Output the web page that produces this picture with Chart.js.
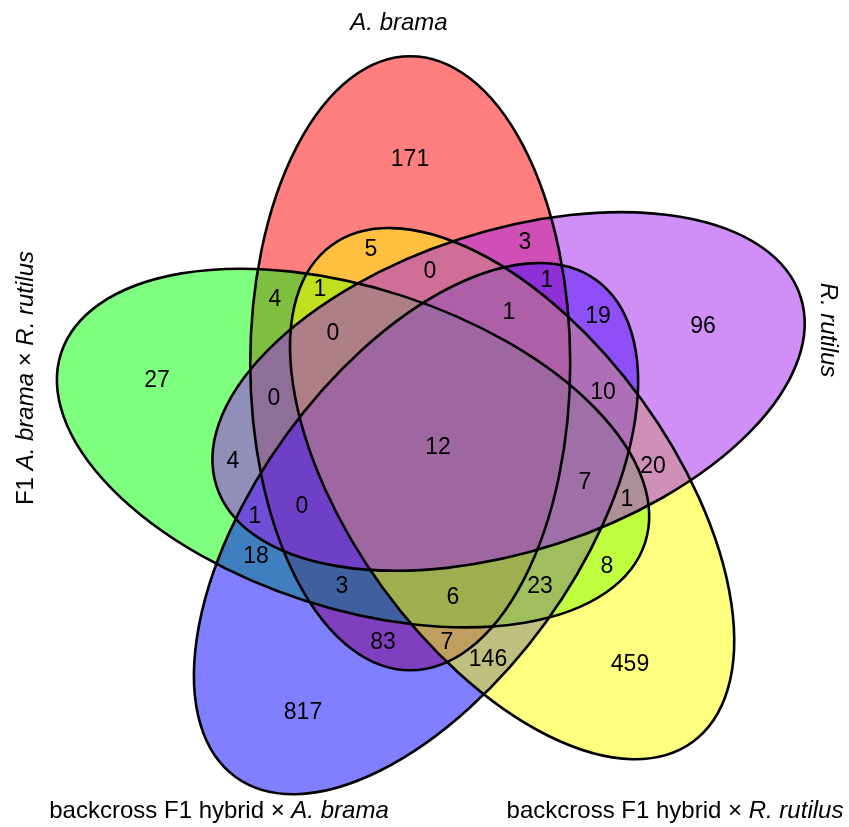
<!DOCTYPE html>
<html>
<head>
<meta charset="utf-8">
<title>Five-set Venn diagram</title>
<script src="https://cdn.jsdelivr.net/npm/chart.js@4/dist/chart.umd.min.js"></script>
<style>
  html, body { margin: 0; padding: 0; background: #ffffff; }
  canvas { display: block; }
</style>
</head>
<body>
<canvas id="venn" width="849" height="827"></canvas>
<script>
// ---- sets, listed in the order their ellipses are painted ----
const setNames = [
  'A. brama',
  'F1 A. brama × R. rutilus',
  'backcross F1 hybrid × A. brama',
  'backcross F1 hybrid × R. rutilus',
  'R. rutilus'
];

// ---- counts for every region of the diagram ----
const regionCounts = [
  171, 5, 3, 0, 1, 4, 1, 19, 96, 1,
  0, 27, 0, 10, 12, 4, 20, 7, 1, 1,
  0, 18, 8, 3, 23, 6, 83, 7, 146, 459,
  817
];

// ---- layout: where each region count is printed (plot units) ----
const regionX = [
  410, 371, 525, 430, 320, 275, 547, 598, 703, 509,
  333, 157, 274, 603, 438, 233, 653, 585, 627, 255,
  302, 256, 607, 342, 540, 453, 383, 447, 488, 630,
  303
];
const regionY = [
  160, 250, 243, 272, 290, 300, 281, 317, 327, 313,
  334, 381, 399, 393, 448, 462, 467, 483, 500, 517,
  507, 557, 567, 587, 587, 598, 643, 643, 660, 665,
  713
];

// ---- ellipse geometry (plot units) and styling ----
const setColours = ['#FF0000', '#00FF00', '#0000FF', '#FFFF00', '#A020F0'];
const setAngles = [0, 288, 216, 144, 72];   // degrees clockwise from the top
const diagramCentre = { x: 440, y: 445 };
const centreOffset = 87;      // distance of each ellipse centre from the diagram centre
const offsetTwist = -20;      // angular lead of the centre over the ellipse tilt
const semiMinor = 160;
const semiMajor = 307;

// set-name placement: centre of the text and its rotation in degrees
const nameX = [399, 26, 219, 675, 828];
const nameY = [23, 378, 811, 811, 330];
const nameRotation = [0, -90, 0, 0, 90];

const FAMILY = '"Liberation Sans", Arial, Helvetica, sans-serif';
const countFont = '23px ' + FAMILY;
const nameSize = 24;

const rad = d => d * Math.PI / 180;

// paints the five translucent ellipses and their outlines through the chart scales
const vennEllipses = {
  id: 'vennEllipses',
  beforeDatasetsDraw(chart) {
    const { ctx, scales: { x, y } } = chart;
    const shapes = setAngles.map(angle => {
      const phi = rad(angle + offsetTwist);
      const cx = diagramCentre.x + centreOffset * Math.sin(phi);
      const cy = diagramCentre.y - centreOffset * Math.cos(phi);
      const px = x.getPixelForValue(cx);
      const py = y.getPixelForValue(cy);
      return {
        px, py,
        rx: Math.abs(x.getPixelForValue(cx + semiMinor) - px),
        ry: Math.abs(y.getPixelForValue(cy + semiMajor) - py),
        rot: rad(angle)
      };
    });
    ctx.save();
    shapes.forEach((s, i) => {
      ctx.globalAlpha = 0.5;
      ctx.fillStyle = setColours[i];
      ctx.beginPath();
      ctx.ellipse(s.px, s.py, s.rx, s.ry, s.rot, 0, Math.PI * 2);
      ctx.fill();
    });
    ctx.globalAlpha = 1;
    ctx.strokeStyle = '#000000';
    ctx.lineWidth = 2.6;
    shapes.forEach(s => {
      ctx.beginPath();
      ctx.ellipse(s.px, s.py, s.rx, s.ry, s.rot, 0, Math.PI * 2);
      ctx.stroke();
    });
    ctx.restore();
  }
};

// writes the region counts and the set names, species names in italics
const vennText = {
  id: 'vennText',
  afterDatasetsDraw(chart) {
    const { ctx, scales: { x, y } } = chart;
    ctx.save();
    ctx.fillStyle = '#000000';
    ctx.textAlign = 'center';
    ctx.textBaseline = 'middle';
    ctx.font = countFont;
    const meta = chart.getDatasetMeta(0);
    meta.data.forEach((pt, i) => {
      ctx.fillText(String(regionCounts[i]), pt.x, pt.y);
    });

    ctx.textAlign = 'left';
    setNames.forEach((name, i) => {
      const parts = name.split(/(A\. brama|R\. rutilus)/).filter(p => p.length);
      const fonts = parts.map(p => (/^(A\. brama|R\. rutilus)$/.test(p) ? 'italic ' : '') + nameSize + 'px ' + FAMILY);
      const widths = parts.map((p, k) => { ctx.font = fonts[k]; return ctx.measureText(p).width; });
      const total = widths.reduce((a, b) => a + b, 0);
      ctx.save();
      ctx.translate(x.getPixelForValue(nameX[i]), y.getPixelForValue(nameY[i]));
      ctx.rotate(rad(nameRotation[i]));
      let cursor = -total / 2;
      parts.forEach((p, k) => {
        ctx.font = fonts[k];
        ctx.fillText(p, cursor, 0);
        cursor += widths[k];
      });
      ctx.restore();
    });
    ctx.restore();
  }
};

new Chart(document.getElementById('venn'), {
  type: 'scatter',
  data: {
    datasets: [{
      label: 'regions',
      data: regionX.map((v, i) => ({ x: v, y: regionY[i] })),
      pointRadius: 0,
      pointHoverRadius: 0
    }]
  },
  options: {
    responsive: false,
    animation: false,
    layout: { padding: 0 },
    events: [],
    scales: {
      x: { type: 'linear', min: 0, max: 849, display: false },
      y: { type: 'linear', min: 0, max: 827, reverse: true, display: false }
    },
    plugins: {
      legend: { display: false },
      tooltip: { enabled: false },
      title: { display: false }
    }
  },
  plugins: [vennEllipses, vennText]
});
</script>
</body>
</html>
